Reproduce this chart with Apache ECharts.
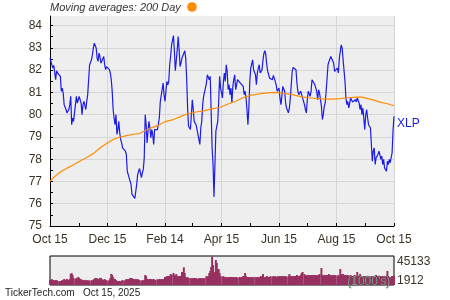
<!DOCTYPE html>
<html><head><meta charset="utf-8">
<script src="https://cdn.jsdelivr.net/npm/echarts@6/dist/echarts.min.js"></script>
<style>html,body{margin:0;padding:0;background:#fff}#c{width:450px;height:300px}</style>
</head><body><div id="c"></div>
<script>
// x positions are day offsets from 2024-10-15
const tickDays = [0, 61, 122, 182, 243, 304, 365];
const tickLabels = ['Oct 15', 'Dec 15', 'Feb 14', 'Apr 15', 'Jun 15', 'Aug 15', 'Oct 15'];
const minorTickDays = [31, 92, 151, 212, 273, 335];
const yLabels = [75, 76, 77, 78, 79, 80, 81, 82, 83, 84];
const yMinorTicks = [75.5, 76.5, 77.5, 78.5, 79.5, 80.5, 81.5, 82.5, 83.5];
const volLabels = ['45133', '1912'];

const days = [
0,1,2,3,4,5,6,7,8,10,11,12,13,14,15,16,17,18,19,20,21,22,23,24,25,
27,28,29,30,31,32,33,34,35,36,37,38,39,40,41,42,
44,45,46,47,48,49,50,51,52,53,54,55,56,57,58,59,60,
62,63,64,65,66,67,68,69,70,71,72,73,74,75,76,77,
79,80,81,82,83,84,85,86,87,88,89,90,91,92,93,94,95,
97,98,99,100,101,102,103,104,105,106,107,108,109,110,111,112,
114,115,116,117,118,119,120,121,122,123,124,125,126,127,128,129,
131,132,133,134,135,136,137,138,139,140,141,142,143,144,145,146,147,
149,150,151,152,153,154,155,156,157,158,159,160,161,162,163,164,
166,167,168,169,170,171,172,173,174,175,176,177,178,179,180,181,
183,184,185,186,187,188,189,190,191,192,193,194,195,196,197,198,199,
201,202,203,204,205,206,207,208,209,210,211,212,213,214,215,216,
218,219,220,221,222,223,224,225,226,227,228,229,230,231,232,233,234,
236,237,238,239,240,241,242,243,244,245,246,247,248,249,250,251,
253,254,255,256,257,258,259,260,261,262,263,264,265,266,267,268,
270,271,272,273,274,275,276,277,278,279,280,281,282,283,284,285,286,
288,289,290,291,292,293,294,295,296,297,298,299,300,301,302,303,
305,306,307,308,309,310,311,312,313,314,315,316,317,318,319,320,321,
323,324,325,326,327,328,329,330,331,332,333,334,335,336,337,338,
340,341,342,343,344,345,346,347,348,349,350,351,352,353,354,355,
357,358,359,360,361,362,363,364,365
];

const price = [
82.54,82.51,82.46,82.09,82.21,82.16,81.57,81.97,81.87,81.79,
81.72,81.05,81.19,80.97,80.45,80.37,80.23,80.08,80.12,80.23,
80.45,80.82,79.55,79.85,79.70,80.45,80.82,80.52,80.67,80.82,
80.75,80.52,80.00,80.45,80.60,80.52,80.23,80.60,80.90,81.57,
82.24,82.46,82.69,82.99,83.21,83.16,82.99,82.54,82.39,82.76,
82.61,82.31,82.39,82.24,82.61,82.24,82.02,82.16,82.24,82.02,
81.87,81.57,81.05,80.23,79.85,79.55,80.00,79.11,79.33,79.70,
79.18,78.88,78.73,78.51,78.54,78.36,78.21,77.46,77.31,77.24,
77.34,76.87,76.42,76.34,76.42,76.24,76.19,76.87,77.31,77.46,
77.58,77.17,77.39,77.54,78.06,80.00,79.55,78.73,79.26,79.70,
79.40,78.96,79.33,79.11,78.66,79.33,79.40,79.33,79.40,79.85,
80.57,80.52,80.57,81.42,80.90,80.60,81.05,81.49,81.34,81.49,
82.24,82.61,83.13,83.55,82.84,81.97,81.94,82.91,83.51,82.91,
82.16,82.31,82.54,82.61,82.76,82.87,82.54,81.64,80.30,79.48,
79.33,79.40,80.67,80.23,79.70,79.70,79.55,79.33,79.33,79.26,
78.66,79.40,79.70,80.45,80.82,80.90,81.42,81.79,81.72,81.57,
81.72,80.15,78.51,77.76,76.30,77.76,79.26,79.33,79.70,80.60,
81.72,81.19,80.75,81.49,81.87,81.49,82.24,81.94,81.12,81.34,
80.90,81.19,80.52,81.27,81.57,81.79,81.12,81.34,81.57,81.49,
81.42,81.49,81.42,81.27,80.90,81.05,80.75,80.23,79.55,80.30,
81.49,82.09,82.27,82.46,82.02,81.79,81.34,81.87,82.09,82.24,
81.87,81.79,82.02,82.46,82.76,82.87,82.69,82.24,81.94,81.87,
81.64,81.72,81.57,81.76,81.64,81.72,81.34,81.05,80.97,81.19,
80.75,80.45,80.82,81.27,81.34,81.05,80.52,80.30,80.08,80.30,
80.75,81.34,81.94,82.12,82.16,82.09,82.02,81.42,81.05,80.90,
80.82,81.05,80.90,80.82,80.45,80.23,80.08,80.67,81.05,81.12,
80.82,81.05,81.57,81.57,81.49,81.34,81.42,81.05,80.67,81.12,
80.97,80.37,79.78,80.00,80.37,80.52,81.05,81.64,82.24,82.39,
82.46,82.61,82.61,82.54,82.31,81.94,81.94,82.09,81.87,82.54,
82.84,83.13,82.99,82.46,82.39,81.49,80.75,80.45,80.60,80.30,
80.52,80.75,80.67,80.57,80.63,80.67,80.57,80.75,80.82,80.52,
80.23,80.45,80.00,80.30,80.37,79.33,80.00,80.23,79.85,79.55,
79.40,78.66,77.91,78.36,78.51,77.76,78.06,78.14,78.21,78.36,
78.21,77.99,78.14,77.76,77.99,77.61,77.46,77.91,77.76,77.99,
77.84,77.90,78.30,79.30,79.93
];

const maDays = [0,4,8,14,19,24,32,39,46,53,60,67,71,80,88,95,102,108,115,123,
131,138,145,155,163,172,180,189,197,206,214,223,231,240,248,257,265,274,282,291,
299,308,316,325,331,337,344,350,357,365];
const ma200 = [77.00,77.18,77.33,77.50,77.62,77.73,77.92,78.08,78.25,78.50,
78.70,78.88,78.95,79.05,79.12,79.15,79.30,79.42,79.52,79.70,
79.78,79.90,80.03,80.12,80.17,80.26,80.32,80.48,80.60,80.78,
80.88,80.94,80.98,81.00,80.96,80.90,80.82,80.76,80.73,80.70,
80.70,80.72,80.76,80.79,80.79,80.72,80.65,80.56,80.50,80.40];

// volume in thousands, one per entry of days
const volume = [
7900,8100,9300,7800,7600,6500,7700,7900,6400,6200,
6300,6100,7800,6600,9500,8000,7600,9600,7900,6600,
9400,17500,18900,15800,11000,9300,11200,9600,12800,11000,
8000,9400,7800,6500,7700,8100,6300,7900,6400,7600,
6200,7800,6500,8200,9600,11200,9400,10900,9300,8100,
11000,11300,9500,8000,7700,9400,7900,7600,6300,8100,
11100,17600,16000,12400,9600,9300,7900,6200,5000,6400,
6300,5100,6500,7900,6400,8000,9500,8100,9400,7900,
11200,9500,10900,9300,9600,8000,9400,7800,9500,8100,
7900,6300,7800,6500,8100,15900,14200,9500,9300,7900,
9600,7900,9400,8000,9500,7700,8100,9300,7900,9600,
7800,9500,9300,8100,9400,12700,11000,14300,12600,14200,
14100,17500,15800,19000,16000,14300,17400,12700,14200,12600,
14300,14100,20600,19000,28000,19000,12700,11100,12600,11000,
11100,9400,11000,9600,11200,9300,11100,9500,9400,11000,
9500,11100,9300,10900,9600,11000,14300,12800,14100,19000,
22200,28500,45133,31700,19000,20600,39600,34900,23800,25400,
19000,14300,12700,14100,12600,11100,12800,11200,12700,11000,
12700,11100,12800,11000,12600,11200,12700,12500,11100,12800,
12700,11000,12800,14200,12600,19000,14100,12700,11100,12600,
12700,11200,12600,11000,12800,12500,11100,12700,11200,12800,
12600,14200,12800,17400,12700,11100,12600,14300,12700,12500,
12800,14100,12600,14300,12700,14200,12600,12800,14100,12700,
14200,12700,14100,14300,12600,14200,14300,12700,14100,17400,
14300,12800,14100,14200,12600,14300,14100,15900,14200,14300,
14100,15900,19000,20600,17400,14200,15800,14300,16000,14100,
15900,14300,15800,14200,16000,14100,15900,15800,14300,16000,
17400,27000,15800,14300,16000,14200,15900,14100,15800,17400,
15900,14300,15800,14200,16000,14100,15800,14300,16000,14200,
25400,17400,15900,17500,15800,14300,16000,14200,15900,14300,
14200,15900,12700,14300,15800,14100,12600,20600,14300,12800,
17400,14200,12600,14300,12700,14100,12800,14300,12600,14200,
12700,14100,12800,14300,12600,14200,15900,14300,12700,14100,
12800,14200,12600,14300,12700,14100,14300,22200,14200,12600,
9500,12700,14300,12800,14100
];

const labelColor = '#3b3224';
const font = 'Liberation Sans, Arial, sans-serif';
const priceData = days.map((d, i) => [d, price[i]]);
const maData = maDays.map((d, i) => [d, ma200[i]]);
const volData = days.map((d, i) => [d, volume[i]]);

const chart = echarts.init(document.getElementById('c'), null, {renderer: 'canvas'});
chart.setOption({
  animation: false,
  backgroundColor: '#ffffff',
  textStyle: {fontFamily: font},
  grid: [
    {left: 50, top: 16, width: 344, height: 210, show: true, backgroundColor: '#eeeeee', borderWidth: 0},
    {left: 50, top: 256, width: 344, height: 29, show: true, backgroundColor: '#eeeeee', borderColor: '#000', borderWidth: 1}
  ],
  xAxis: [
    {gridIndex: 0, type: 'value', min: 0, max: 365, position: 'bottom',
     axisLine: {show: true, lineStyle: {color: '#000', width: 1}},
     axisTick: {show: true, inside: true, length: 3, lineStyle: {color: '#000'},
       customValues: tickDays.concat(minorTickDays).sort((a, b) => a - b)},
     axisLabel: {customValues: tickDays, color: labelColor, fontSize: 12, fontFamily: font, margin: 8,
       formatter: v => tickLabels[tickDays.indexOf(v)] || ''},
     splitLine: {show: false}},
    {gridIndex: 0, type: 'value', min: 0, max: 365, position: 'bottom',
     axisLine: {show: false}, axisTick: {show: false, customValues: tickDays},
     axisLabel: {show: false}, splitLine: {show: true, lineStyle: {color: '#d6d6d6', width: 1}}},
    {gridIndex: 1, type: 'value', min: 0, max: 365,
     axisLine: {show: false}, axisTick: {show: false}, axisLabel: {show: false}, splitLine: {show: false}}
  ],
  yAxis: [
    {gridIndex: 0, type: 'value', min: 75, max: 84.43, position: 'left',
     axisLine: {show: true, lineStyle: {color: '#000', width: 1}},
     axisTick: {show: true, inside: true, length: 3, lineStyle: {color: '#000'},
       customValues: yLabels.concat(yMinorTicks).sort((a, b) => a - b)},
     axisLabel: {customValues: yLabels, color: labelColor, fontSize: 12, fontFamily: font, margin: 8},
     splitLine: {show: false}},
    {gridIndex: 0, type: 'value', min: 75, max: 84.43, position: 'left',
     axisLine: {show: false}, axisTick: {show: false, customValues: yLabels},
     axisLabel: {show: false}, splitLine: {show: true, lineStyle: {color: '#d6d6d6', width: 1}}},
    {gridIndex: 1, type: 'value', min: 0, max: 46000,
     axisLine: {show: false}, axisTick: {show: false}, axisLabel: {show: false}, splitLine: {show: false}}
  ],
  series: [
    {type: 'bar', xAxisIndex: 2, yAxisIndex: 2, data: volData, barWidth: 2,
     itemStyle: {color: '#983062'}, silent: true},
    {type: 'line', name: 'XLP', xAxisIndex: 0, yAxisIndex: 0, data: priceData,
     showSymbol: false, lineStyle: {color: '#1c1ce8', width: 1.2},
     endLabel: {show: true, formatter: 'XLP', color: '#1c1ce8', fontSize: 12, fontFamily: font,
       distance: 3, offset: [0, 7]}},
    {type: 'line', name: '200 Day', xAxisIndex: 0, yAxisIndex: 0, data: maData,
     showSymbol: false, lineStyle: {color: '#ff8c00', width: 1.2}}
  ],
  graphic: [
    {type: 'text', left: 50, top: 2,
     style: {text: 'Moving averages: 200 Day', font: 'italic 11px Liberation Sans, Arial, sans-serif', fill: '#333333'}},
    {type: 'circle', shape: {cx: 192, cy: 7, r: 4.8}, style: {fill: '#ff8c00'}},
    {type: 'text', left: 397, top: 256,
     style: {text: volLabels[0], font: '12px Liberation Sans, Arial, sans-serif', fill: labelColor}},
    {type: 'text', left: 397, top: 275,
     style: {text: volLabels[1], font: '12px Liberation Sans, Arial, sans-serif', fill: labelColor}},
    {type: 'text', left: 347, top: 275, z: 100,
     style: {text: "(1000's)", font: '12px Liberation Sans, Arial, sans-serif', fill: '#8e9c8e', stroke: '#2f3b2f', lineWidth: 0.5}},
    {type: 'text', left: 5, top: 288,
     style: {text: 'TickerTech.com   Oct 15, 2025', font: '10px Liberation Sans, Arial, sans-serif', fill: '#222222'}}
  ]
});
</script>
</body></html>
